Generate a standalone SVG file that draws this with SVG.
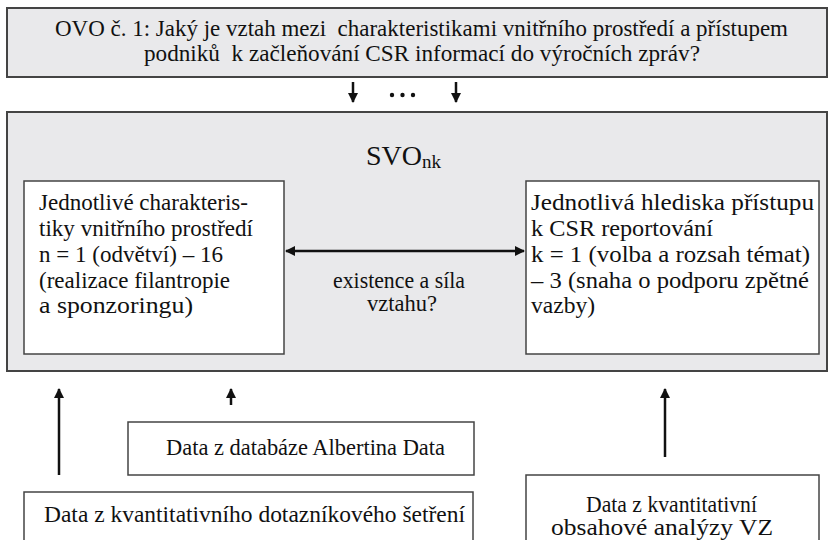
<svg xmlns="http://www.w3.org/2000/svg" width="829" height="540" viewBox="0 0 829 540">
<style>
text{font-family:"Liberation Serif","Times New Roman",serif;fill:#111;}
.gray{fill:#e9e9eb;stroke:#444;stroke-width:2;}
.white{fill:#fff;stroke:#444;stroke-width:1.5;}
.t{font-size:22.5px;}
.b{font-size:22.5px;}
.c{stroke:#111;stroke-width:2.5;fill:none;}
</style>
<defs>
<marker id="ah" viewBox="0 0 10 10" refX="9" refY="5" markerWidth="4" markerHeight="4.5" orient="auto-start-reverse" markerUnits="strokeWidth">
<path d="M0,0 L10,5 L0,10 Z" fill="#111"/>
</marker>
</defs>
<g id="top">
<rect class="gray" x="7" y="8" width="820" height="69"/>
<text class="t" x="55" y="36" textLength="733" lengthAdjust="spacingAndGlyphs" xml:space="preserve">OVO č. 1: Jaký je vztah mezi  charakteristikami vnitřního prostředí a přístupem</text>
<text class="t" x="144" y="61" textLength="556" lengthAdjust="spacingAndGlyphs" xml:space="preserve">podniků  k začleňování CSR informací do výročních zpráv?</text>
</g>
<g id="svo">
<rect class="gray" x="7" y="112" width="820" height="259"/>
<text x="366" y="165" font-size="28">SVO<tspan font-size="19" dy="3">nk</tspan></text>
</g>
<g id="left">
<rect class="white" x="24" y="181" width="260" height="173"/>
<text class="b" x="39" y="210" textLength="209" lengthAdjust="spacingAndGlyphs">Jednotlivé charakteris-</text>
<text class="b" x="39" y="236" textLength="214" lengthAdjust="spacingAndGlyphs">tiky vnitřního prostředí</text>
<text class="b" x="39" y="262" textLength="184" lengthAdjust="spacingAndGlyphs">n = 1 (odvětví) – 16</text>
<text class="b" x="39" y="288" textLength="191" lengthAdjust="spacingAndGlyphs">(realizace filantropie</text>
<text class="b" x="39" y="313" textLength="154" lengthAdjust="spacingAndGlyphs">a sponzoringu)</text>
</g>
<g id="right">
<rect class="white" x="526" y="181" width="293" height="173"/>
<text class="b" x="531" y="210" textLength="283" lengthAdjust="spacingAndGlyphs">Jednotlivá hlediska přístupu</text>
<text class="b" x="531" y="236" textLength="182" lengthAdjust="spacingAndGlyphs">k CSR reportování</text>
<text class="b" x="531" y="262" textLength="279" lengthAdjust="spacingAndGlyphs">k = 1 (volba a rozsah témat)</text>
<text class="b" x="531" y="288" textLength="278" lengthAdjust="spacingAndGlyphs">– 3 (snaha o podporu zpětné</text>
<text class="b" x="531" y="313" textLength="64" lengthAdjust="spacingAndGlyphs">vazby)</text>
</g>
<g id="label">
<text class="b" x="333" y="288" textLength="132" lengthAdjust="spacingAndGlyphs">existence a síla</text>
<text class="b" x="402" y="311" text-anchor="middle">vztahu?</text>
</g>
<g id="albertina">
<rect class="white" x="128" y="422" width="346" height="53"/>
<text class="b" x="166" y="455" textLength="279" lengthAdjust="spacingAndGlyphs">Data z databáze Albertina Data</text>
</g>
<g id="survey">
<rect class="white" x="24" y="492" width="449" height="60"/>
<text class="b" x="44" y="522" textLength="421" lengthAdjust="spacingAndGlyphs">Data z kvantitativního dotazníkového šetření</text>
</g>
<g id="content">
<rect class="white" x="526" y="475" width="293" height="80"/>
<text class="b" x="586" y="512" textLength="171" lengthAdjust="spacingAndGlyphs">Data z kvantitativní</text>
<text class="b" x="551" y="535" textLength="222" lengthAdjust="spacingAndGlyphs">obsahové analýzy VZ</text>
</g>
<g id="connectors">
<line class="c" x1="353" y1="82" x2="353" y2="102" marker-end="url(#ah)"/>
<line class="c" x1="456" y1="82" x2="456" y2="102" marker-end="url(#ah)"/>
<circle cx="392" cy="95" r="2.2" fill="#111"/>
<circle cx="402.5" cy="95" r="2.2" fill="#111"/>
<circle cx="413" cy="95" r="2.2" fill="#111"/>
<line class="c" x1="286" y1="251" x2="524" y2="251" marker-start="url(#ah)" marker-end="url(#ah)"/>
<line class="c" x1="59" y1="475" x2="59" y2="389" marker-end="url(#ah)"/>
<line class="c" x1="231" y1="405" x2="231" y2="389" marker-end="url(#ah)"/>
<line class="c" x1="665" y1="457" x2="665" y2="389" marker-end="url(#ah)"/>
</g>
</svg>
